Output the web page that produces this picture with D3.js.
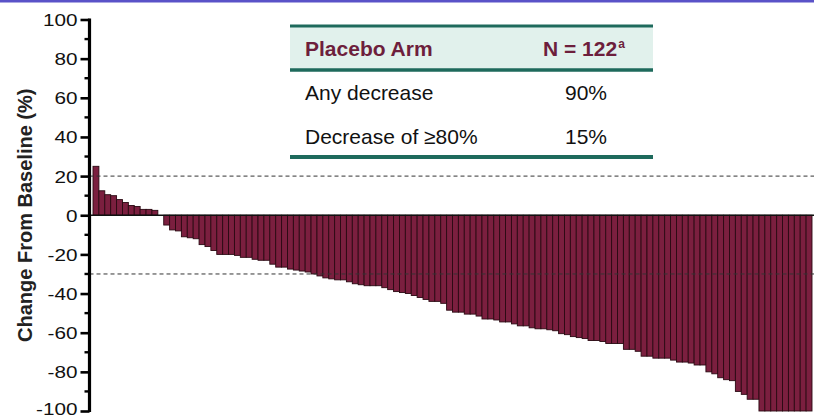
<!DOCTYPE html>
<html><head><meta charset="utf-8">
<script src="https://cdn.jsdelivr.net/npm/d3@7"></script>
<style>html,body{margin:0;padding:0;background:#fff;}svg{display:block;}</style>
</head><body>
<svg id="chart" width="814" height="419"></svg>
<script>
// ---- data ----
const patientValues = [
  25, 12.5, 10.5, 10, 8, 6.5, 5, 4.5, 3, 3, 2.5, 0,
  -5, -7.5, -8, -11, -11.5, -12, -15, -16, -18, -20,
  -20, -20, -20.5, -21.5, -21.5, -22.5, -23, -23, -25, -26.5,
  -26.5, -27.5, -28, -28.5, -29, -30, -31, -32, -32.5, -33,
  -33, -34, -35, -35.5, -36, -36, -36, -37, -38, -39,
  -39.5, -40, -41, -42, -43, -44, -44, -45, -48.5, -49.5,
  -49.5, -50.5, -50.5, -51.5, -53, -53, -53.5, -54.5, -54.5, -55.5,
  -56.5, -56.5, -57.5, -58, -58, -58.5, -59, -60.5, -61, -62,
  -62.5, -63, -64, -64, -64.5, -65.5, -65.5, -65.5, -68.5, -68.5,
  -69.5, -72, -72, -73, -73, -73, -74, -75, -75, -75.5,
  -76.5, -76.5, -80, -81, -83, -84, -84.5, -90, -91.5, -94,
  -94, -100, -100, -100, -100, -100, -100, -100, -100, -100
];
const majorTicks = [100, 80, 60, 40, 20, 0, -20, -40, -60, -80, -100];
const minorTicks = [90, 70, 50, 30, 10, -10, -30, -50, -70, -90];
const thresholdLines = [20, -30];
const yTitle = "Change From Baseline (%)";
const tableHeader = ["Placebo Arm", "N = 122", "a"];
const tableRows = [["Any decrease", "90%"], ["Decrease of \u226580%", "15%"]];

// ---- layout ----
const svg = d3.select("#chart");
const axisX = 89.5;
const y = d3.scaleLinear().domain([-100, 100]).range([411, 19.5]);
const x = d3.scaleBand().domain(d3.range(patientValues.length)).range([93, 812]).padding(0);

// top purple strip
svg.append("rect").attr("x", 0).attr("y", 0).attr("width", 814).attr("height", 2.5).attr("fill", "#5a52c8");

// bars
svg.append("g").selectAll("rect").data(patientValues).join("rect")
  .attr("x", (d, i) => x(i))
  .attr("width", x.bandwidth())
  .attr("y", d => Math.min(y(d), y(0)))
  .attr("height", d => Math.abs(y(d) - y(0)))
  .attr("fill", "#7b1f3f")
  .attr("stroke", "#2a0912")
  .attr("stroke-width", 0.9);

// threshold dashed lines
svg.append("g").selectAll("line").data(thresholdLines).join("line")
  .attr("x1", axisX).attr("x2", 814)
  .attr("y1", d => y(d)).attr("y2", d => y(d))
  .attr("stroke", "#333").attr("stroke-width", 1)
  .attr("stroke-dasharray", "4,3");

// zero line
svg.append("line").attr("x1", axisX).attr("x2", 814)
  .attr("y1", y(0)).attr("y2", y(0))
  .attr("stroke", "#111").attr("stroke-width", 1.5);

// y axis
const axisG = svg.append("g").attr("transform", `translate(${axisX},0)`);
const yAxis = d3.axisLeft(y).tickValues(majorTicks).tickSize(9).tickPadding(3)
  .tickFormat(d => d < 0 ? "-" + Math.abs(d) : String(d));
axisG.call(yAxis);
axisG.select(".domain").attr("stroke", "#000").attr("stroke-width", 3.2)
  .attr("d", `M0,${y(100) - 1}V${y(-100) + 1}`);
axisG.selectAll(".tick line").attr("stroke", "#000").attr("stroke-width", 2.6);
axisG.selectAll(".tick text")
  .attr("font-family", "Liberation Sans, Arial, sans-serif")
  .attr("font-size", 17).attr("fill", "#111")
  .attr("x", 0).attr("dy", d => d === -100 ? "0.22em" : "0.35em")
  .attr("transform", "translate(-12,0) scale(1.22,1)");
axisG.selectAll(".minor").data(minorTicks).join("line")
  .attr("class", "minor")
  .attr("x1", -5).attr("x2", 0)
  .attr("y1", d => y(d)).attr("y2", d => y(d))
  .attr("stroke", "#000").attr("stroke-width", 2.4);

// y title
svg.append("text")
  .attr("transform", `translate(32,${(y(100) + y(-100)) / 2}) rotate(-90)`)
  .attr("text-anchor", "middle")
  .attr("font-family", "Liberation Sans, Arial, sans-serif")
  .attr("font-weight", "bold").attr("font-size", 20).attr("fill", "#222")
  .text(yTitle);

// ---- table ----
const tx0 = 290, tx1 = 653;
const teal = "#1e6a5c";
svg.append("rect").attr("x", tx0).attr("y", 27).attr("width", tx1 - tx0).attr("height", 42).attr("fill", "#e1f1ec");
[[26, 3], [70, 3.5], [157, 4]].forEach(([yy, w]) => {
  svg.append("line").attr("x1", tx0).attr("x2", tx1).attr("y1", yy).attr("y2", yy)
    .attr("stroke", teal).attr("stroke-width", w);
});
const maroon = "#6d1f3c";
svg.append("text").attr("x", 305).attr("y", 56)
  .attr("font-family", "Liberation Sans, Arial, sans-serif").attr("font-weight", "bold")
  .attr("font-size", 21).attr("fill", maroon)
  .text(tableHeader[0]);
const nText = svg.append("text").attr("x", 543).attr("y", 56)
  .attr("font-family", "Liberation Sans, Arial, sans-serif").attr("font-weight", "bold")
  .attr("font-size", 21).attr("fill", maroon);
nText.append("tspan").text(tableHeader[1]);
nText.append("tspan").attr("font-size", 12).attr("dy", -8).attr("dx", 1).text(tableHeader[2]);

const rowBase = [100, 144];
tableRows.forEach((r, i) => {
  svg.append("text").attr("x", 305).attr("y", rowBase[i])
    .attr("font-family", "Liberation Sans, Arial, sans-serif").attr("font-size", 21).attr("fill", "#111")
    .text(r[0]);
  svg.append("text").attr("x", 565).attr("y", rowBase[i])
    .attr("font-family", "Liberation Sans, Arial, sans-serif").attr("font-size", 21).attr("fill", "#111")
    .text(r[1]);
});
</script>
</body></html>
